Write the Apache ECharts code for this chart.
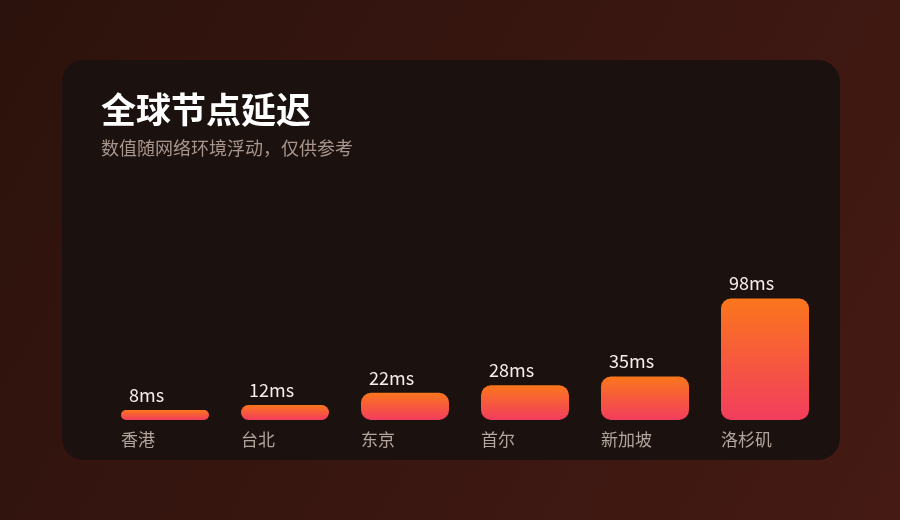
<!DOCTYPE html>
<html>
<head>
<meta charset="utf-8">
<script src="https://cdn.jsdelivr.net/npm/echarts@6/dist/echarts.min.js"></script>
<style>
	html,body{margin:0;padding:0;}
	#chart{width:900px;height:520px;}
</style>
</head>
<body>
<div id="chart"></div>
<script>
// node latency, ms
var cities = ['香港', '台北', '东京', '首尔', '新加坡', '洛杉矶'];
var latency = [8, 12, 22, 28, 35, 98];
var titleText = '全球节点延迟';
var subText = '数值随网络环境浮动，仅供参考';

var FONT = '"Noto Sans CJK SC", "Noto Sans", sans-serif';

var chart = echarts.init(document.getElementById('chart'));

var barColor = new echarts.graphic.LinearGradient(0, 0, 0, 1, [
	{offset: 0, color: '#fb761c'},
	{offset: 1, color: '#f23d5e'}
]);

var option = {
	backgroundColor: new echarts.graphic.LinearGradient(0, 0, 1, 1, [
		{offset: 0, color: '#2c120c'},
		{offset: 1, color: '#451a14'}
	]),
	graphic: [{
		type: 'rect',
		z: -10,
		shape: {x: 62, y: 60, width: 778, height: 400, r: 22},
		style: {fill: '#1b110e'}
	}],
	title: {
		text: titleText,
		subtext: subText,
		left: 96,
		top: 87,
		itemGap: 12,
		textStyle: {color: '#ffffff', fontSize: 35, fontWeight: 'bold', fontFamily: FONT},
		subtextStyle: {color: '#a8968d', fontSize: 18, fontFamily: FONT}
	},
	grid: {left: 105, right: 75, top: 296, bottom: 100},
	xAxis: {
		type: 'category',
		data: cities,
		axisLine: {show: false},
		axisTick: {show: false},
		axisLabel: {show: false}
	},
	yAxis: {
		type: 'value',
		min: 0,
		max: 100,
		show: false,
		splitLine: {show: false}
	},
	series: [
		{
			// invisible copy, only carries the city names under the bars
			type: 'bar',
			data: latency,
			barWidth: 88,
			barGap: '-100%',
			silent: true,
			itemStyle: {color: 'rgba(0,0,0,0)'},
			label: {
				show: true,
				position: ['0%', '100%'],
				offset: [0, 20],
				align: 'left',
				verticalAlign: 'middle',
				formatter: '{b}',
				color: '#b3a59d',
				fontSize: 17,
				fontFamily: FONT
			},
			z: 1
		},
		{
			type: 'bar',
			data: latency,
			barWidth: 88,
			itemStyle: {color: barColor, borderRadius: 10},
			label: {
				show: true,
				position: [8, -15],
				align: 'left',
				verticalAlign: 'middle',
				formatter: '{c}ms',
				color: '#f6eeea',
				fontSize: 18,
				fontFamily: FONT
			},
			z: 2
		}
	]
};

chart.setOption(option);
</script>
</body>
</html>
